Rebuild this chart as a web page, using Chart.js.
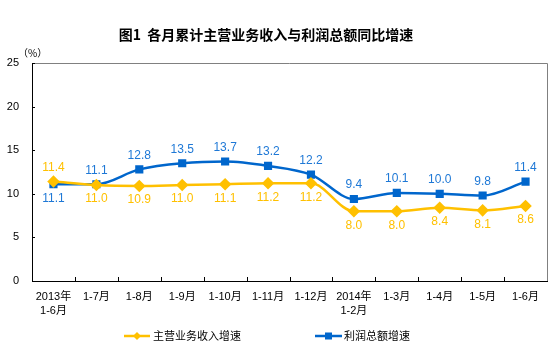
<!DOCTYPE html>
<html>
<head>
<meta charset="utf-8">
<script src="https://cdn.jsdelivr.net/npm/chart.js@4"></script>
<style>
  html, body { margin: 0; padding: 0; background: #fff; }
  #wrap { width: 554px; height: 352px; }
</style>
</head>
<body>
<div id="wrap"><canvas id="myChart" width="554" height="352"></canvas></div>
<script>
// data
var months = [['2013年', '1-6月'], '1-7月', '1-8月', '1-9月', '1-10月', '1-11月', '1-12月',
  ['2014年', '1-2月'], '1-3月', '1-4月', '1-5月', '1-6月'];
var revenue = [11.4, 11.0, 10.9, 11.0, 11.1, 11.2, 11.2, 8.0, 8.0, 8.4, 8.1, 8.6];
var profit = [11.1, 11.1, 12.8, 13.5, 13.7, 13.2, 12.2, 9.4, 10.1, 10.0, 9.8, 11.4];
var yTicks = [0, 5, 10, 15, 20, 25];

var YELLOW = '#FFC000';
var BLUE = '#0066CC';
var cjk = '"Liberation Sans", "Noto Sans CJK SC", sans-serif';

// labels drawn next to each point; first point of each line sits the other way round
var extras = {
    id: 'extras',
    afterDatasetsDraw: function (chart) {
        var ctx = chart.ctx;
        var area = chart.chartArea;
        var x = chart.scales.x, y = chart.scales.y;
        ctx.save();

        // gray frame on top and right
        ctx.strokeStyle = '#808080';
        ctx.lineWidth = 1;
        ctx.beginPath();
        ctx.moveTo(area.left, area.top + 0.5);
        ctx.lineTo(area.right + 0.5, area.top + 0.5);
        ctx.lineTo(area.right + 0.5, area.bottom);
        ctx.stroke();

        // tick marks pointing inwards
        ctx.strokeStyle = '#000';
        ctx.beginPath();
        yTicks.forEach(function (v) {
            var py = Math.round(y.getPixelForValue(v)) + 0.5;
            ctx.moveTo(area.left, py);
            ctx.lineTo(area.left + 3, py);
        });
        for (var i = 1; i < months.length; i++) {
            var px = Math.round((x.getPixelForValue(i - 1) + x.getPixelForValue(i)) / 2) + 0.5;
            ctx.moveTo(px, area.bottom);
            ctx.lineTo(px, area.bottom - 4);
        }
        ctx.stroke();

        // value labels
        ctx.font = '12px "Liberation Sans", Arial, sans-serif';
        ctx.textAlign = 'center';
        ctx.textBaseline = 'middle';
        chart.data.datasets.forEach(function (ds, di) {
            var meta = chart.getDatasetMeta(di);
            ctx.fillStyle = di === 0 ? YELLOW : '#1E78D6';
            meta.data.forEach(function (pt, i) {
                var up = di === 1;
                if (i === 0) up = !up;
                var dy = up ? -14 : 14;
                ctx.fillText(ds.data[i].toFixed(1), pt.x, pt.y + dy);
            });
        });

        // title and unit
        ctx.fillStyle = '#000';
        ctx.font = 'bold 14px "Noto Sans CJK SC", sans-serif';
        ctx.fillText('图1  各月累计主营业务收入与利润总额同比增速', 266, 35);
        ctx.font = '10px "Noto Sans CJK SC", sans-serif';
        ctx.textAlign = 'left';
        ctx.fillText('（%）', 18, 53);

        // legend
        var ly = 336;
        ctx.lineWidth = 2.5;
        ctx.strokeStyle = YELLOW;
        ctx.beginPath(); ctx.moveTo(124, ly); ctx.lineTo(150, ly); ctx.stroke();
        ctx.fillStyle = YELLOW;
        ctx.beginPath();
        ctx.moveTo(137, ly - 4); ctx.lineTo(141, ly); ctx.lineTo(137, ly + 4); ctx.lineTo(133, ly);
        ctx.closePath(); ctx.fill();
        ctx.strokeStyle = BLUE;
        ctx.beginPath(); ctx.moveTo(315, ly); ctx.lineTo(342, ly); ctx.stroke();
        ctx.fillStyle = BLUE;
        ctx.fillRect(325, ly - 3.5, 7, 7);
        ctx.fillStyle = '#000';
        ctx.font = '11px "Noto Sans CJK SC", sans-serif';
        ctx.fillText('主营业务收入增速', 153, ly);
        ctx.fillText('利润总额增速', 344, ly);
        ctx.restore();
    }
};

var ctx = document.getElementById('myChart').getContext('2d');
var myChart = new Chart(ctx, {
    type: 'line',
    data: {
        labels: months,
        datasets: [{
            label: '主营业务收入增速',
            data: revenue,
            borderColor: YELLOW,
            backgroundColor: YELLOW,
            borderWidth: 2.5,
            pointStyle: 'rectRot',
            pointRadius: 4.5,
            pointHoverRadius: 4.5,
            cubicInterpolationMode: 'monotone'
        }, {
            label: '利润总额增速',
            data: profit,
            borderColor: BLUE,
            backgroundColor: BLUE,
            borderWidth: 2.5,
            pointStyle: 'rect',
            pointRadius: 4,
            pointHoverRadius: 4,
            cubicInterpolationMode: 'monotone'
        }]
    },
    options: {
        responsive: false,
        animation: false,
        layout: { padding: { top: 63, right: 7, bottom: 31, left: 0 } },
        plugins: {
            legend: { display: false },
            title: { display: false },
            tooltip: { enabled: false }
        },
        scales: {
            x: {
                offset: true,
                grid: { display: false, drawTicks: false },
                border: { color: '#000', width: 1 },
                ticks: {
                    color: '#000',
                    padding: 9,
                    maxRotation: 0,
                    autoSkip: false,
                    font: { size: 11, family: cjk, lineHeight: 1.25 }
                },
                afterFit: function (s) { s.height = 40; }
            },
            y: {
                min: 0,
                max: 25,
                grid: { display: false, drawTicks: false },
                border: { color: '#000', width: 1 },
                ticks: {
                    stepSize: 5,
                    color: '#000',
                    padding: 13,
                    font: { size: 11, family: '"Liberation Sans", Arial, sans-serif' }
                },
                afterFit: function (s) { s.width = 32; }
            }
        }
    },
    plugins: [extras]
});
</script>
</body>
</html>
